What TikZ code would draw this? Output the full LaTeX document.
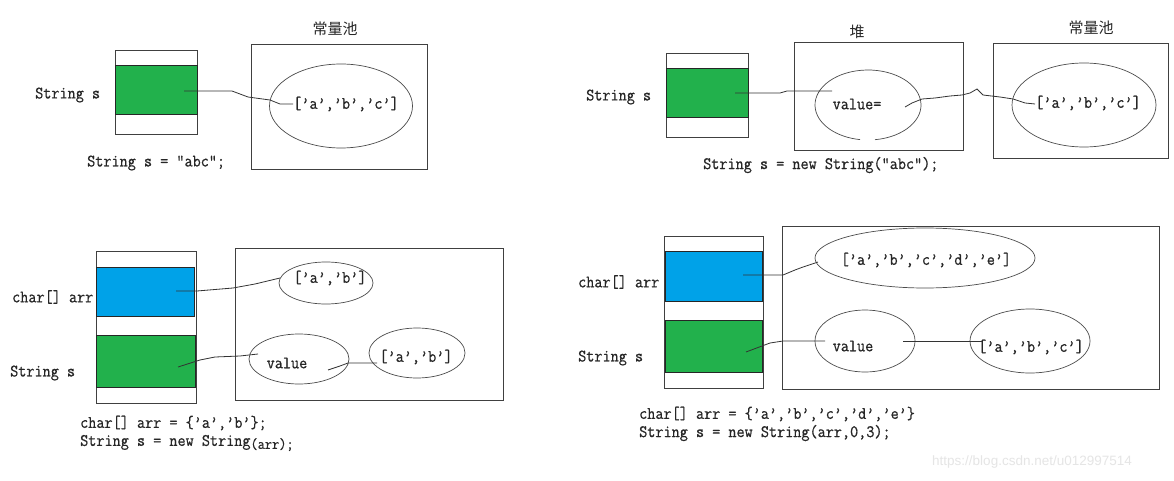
\documentclass[tikz,border=0pt]{standalone}
\usepackage{fontspec}
\newfontfamily\cjk{Noto Sans CJK SC}
\newfontfamily\wmfont{Liberation Sans}
\newfontfamily\codefont{Latin Modern Mono}[FakeStretch=0.9, FakeBold=0.6]
\usetikzlibrary{shapes.geometric}
\definecolor{paintgreen}{RGB}{34,177,76}
\definecolor{paintblue}{RGB}{0,162,232}
\tikzset{
  box/.style={draw=black!75, line width=0.9pt, inner sep=0pt, outer sep=0pt, anchor=north west},
  cellg/.style={box, draw=black!85, fill=paintgreen},
  cellb/.style={box, draw=black!85, fill=paintblue},
  oval/.style={ellipse, draw=black!70, line width=0.7pt, inner sep=0pt},
  wire/.style={draw=black!80, line width=0.8pt},
  code/.style={font=\codefont\fontsize{17.5}{20}\selectfont, inner sep=0pt, text=black!85},
  cjklabel/.style={font=\cjk\fontsize{15}{17}\selectfont, inner sep=0pt, text=black!85},
  wm/.style={font=\wmfont\fontsize{13.5}{16}\selectfont, text=black!10, inner sep=0pt, anchor=west}
}
\begin{document}
\begin{tikzpicture}[x=1pt,y=1pt]
\useasboundingbox (0,0) rectangle (1174,-481);
\fill[white] (0,0) rectangle (1174,-481);

% ---------- top left ----------
\node[code, anchor=west] (tlS) at (35,-95) {String s};
\node[box, minimum width=82, minimum height=84] (st1) at (115,-50) {};
\node[cellg, minimum width=82, minimum height=49] (g1) at (115,-65) {};
\node[box, minimum width=176, minimum height=125] (pool1) at (251,-44) {};
\node[cjklabel] (pool1lbl) at (335,-29) {常量池};
\node[oval, minimum width=143, minimum height=84] (e1) at (341,-106) {};
\node[code] (arr1) at (346,-104) {[’a’,’b’,’c’]};
\node[code, anchor=west] (code1) at (87,-163) {String s = “abc”;};
\coordinate (w1a) at (184,-91);
\coordinate (w1b) at (293,-104);
\draw[wire] (w1a) -- (232,-91) -- (248,-97) -- (270,-100) -- (280,-104) -- (w1b);

% ---------- top right ----------
\node[code, anchor=west] (trS) at (586,-97) {String s};
\node[box, minimum width=82, minimum height=84] (st2) at (666,-53) {};
\node[cellg, minimum width=82, minimum height=49] (g2) at (666,-68) {};
\node[box, minimum width=169, minimum height=108] (heap2) at (794,-42) {};
\node[cjklabel] (heap2lbl) at (857,-32) {堆};
\node[ellipse, minimum width=106, minimum height=70, inner sep=0pt] (e2) at (868,-105) {};
\draw[draw=black!70, line width=0.7pt] (e2.center) ++(277.6:53 and 35)
  arc[start angle=277.6, end angle=621.3, x radius=53, y radius=35];
\node[code] (val2) at (857,-104) {value=};
\node[box, minimum width=175, minimum height=115] (pool2) at (993,-43) {};
\node[cjklabel] (pool2lbl) at (1091,-28) {常量池};
\node[oval, minimum width=144, minimum height=84] (e3) at (1084,-105) {};
\node[code] (arr2) at (1088,-103) {[’a’,’b’,’c’]};
\node[code, anchor=west] (code2) at (703,-165) {String s = new String(“abc”);};
\coordinate (w2a) at (735,-93);
\coordinate (w2b) at (832,-91);
\draw[wire] (w2a) -- (780,-93) -- (787,-91) -- (w2b);
\coordinate (w3a) at (905,-107);
\coordinate (w3b) at (1035,-104);
\draw[wire] (w3a) -- (912,-103) -- (922,-99) -- (935,-98) -- (950,-96) -- (962,-95) -- (970,-93) -- (977,-89) -- (983,-95) -- (1000,-97) -- (1013,-99) -- (1025,-103) -- (w3b);

% ---------- bottom left ----------
\node[code, anchor=west] (blA) at (12,-297) {char[] arr};
\node[code, anchor=west] (blS) at (10,-373) {String s};
\node[box, minimum width=100, minimum height=152] (st3) at (96,-251) {};
\node[cellb, minimum width=98, minimum height=49] (b3) at (96.5,-267) {};
\node[cellg, minimum width=99, minimum height=52] (g3) at (96.5,-335) {};
\node[box, minimum width=268, minimum height=152] (heap3) at (235,-248) {};
\node[oval, minimum width=94, minimum height=42] (e4) at (326,-283) {};
\node[code] (arr3) at (330,-278) {[’a’,’b’]};
\node[oval, minimum width=100, minimum height=50] (e5) at (299,-359) {};
\node[code] (val3) at (287,-363) {value};
\node[oval, minimum width=96, minimum height=50] (e6) at (417,-353) {};
\node[code] (arr4) at (416,-357) {[’a’,’b’]};
\coordinate (w4a) at (176,-291);
\coordinate (w4b) at (280,-278);
\draw[wire] (w4a) -- (197,-291) -- (233,-288) -- (255,-284) -- (w4b);
\coordinate (w5a) at (178,-367);
\coordinate (w5b) at (258,-354);
\draw[wire] (w5a) -- (200,-360) -- (215,-357) -- (240,-356) -- (w5b);
\coordinate (w6a) at (328,-370);
\coordinate (w6b) at (377,-363);
\draw[wire] (w6a) -- (340,-366) -- (348,-363) -- (w6b);
\node[code, anchor=west] (code3a) at (80,-423) {char[] arr = \{’a’,’b’\};};
\node[code, anchor=west] (code3b) at (80,-443) {String s = new String\raisebox{-3pt}{\fontsize{15.5}{18}\selectfont(arr);}};

% ---------- bottom right ----------
\node[code, anchor=west] (brA) at (578,-282) {char[] arr};
\node[code, anchor=west] (brS) at (578,-358) {String s};
\node[box, minimum width=99, minimum height=152] (st4) at (664,-236) {};
\node[cellb, minimum width=97, minimum height=50] (b4) at (665,-251) {};
\node[cellg, minimum width=97, minimum height=52] (g4) at (665,-320) {};
\node[box, minimum width=377, minimum height=163] (heap4) at (782,-226) {};
\node[oval, minimum width=220, minimum height=60] (e7) at (925,-258) {};
\node[code] (arr5) at (926,-260) {[’a’,’b’,’c’,’d’,’e’]};
\node[oval, minimum width=100, minimum height=62] (e8) at (865,-341) {};
\node[code] (val4) at (853,-346) {value};
\node[oval, minimum width=120, minimum height=64] (e9) at (1030,-341) {};
\node[code] (arr6) at (1031,-347) {[’a’,’b’,’c’]};
\coordinate (w7a) at (743,-275);
\coordinate (w7b) at (818,-262);
\draw[wire] (w7a) -- (783,-275) -- (795,-270) -- (803,-267) -- (w7b);
\coordinate (w8a) at (746,-352);
\coordinate (w8b) at (825,-341);
\draw[wire] (w8a) -- (770,-343) -- (783,-341) -- (w8b);
\coordinate (w9a) at (903,-341);
\coordinate (w9b) at (982,-341);
\draw[wire] (w9a) -- (w9b);
\node[code, anchor=west] (code4a) at (639,-414) {char[] arr = \{’a’,’b’,’c’,’d’,’e’\}};
\node[code, anchor=west] (code4b) at (639,-433) {String s = new String(arr,0,3);};

\node[wm] (wmk) at (932,-462) {https://blog.csdn.net/u012997514};
\end{tikzpicture}
\end{document}
